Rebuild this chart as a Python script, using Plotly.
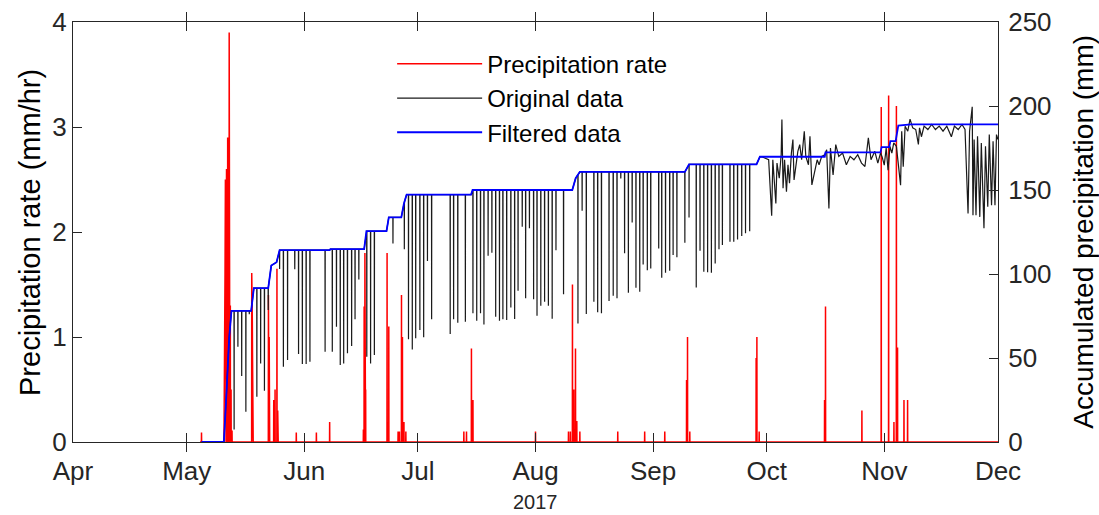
import numpy as np
import pandas as pd
import plotly.graph_objects as go

START = pd.Timestamp("2017-04-01")

# ---------------- data (days since 2017-04-01) ----------------
# Precipitation rate (mm/hr), non-zero samples
rate_days = [33.9,
             39.85, 40.0, 40.1, 40.2, 40.4, 40.5, 40.6, 40.8, 41.0, 41.2, 41.35, 41.5, 41.7, 41.95,
             47.15, 47.3, 47.35, 47.5,
             51.55, 51.65, 51.75, 51.85,
             52.95, 53.3, 53.8, 54.0, 54.1,
             58.9, 64.2, 67.7,
             76.6, 76.8, 77.0, 77.2,
             82.85, 83.3,
             85.75, 86.1, 86.65, 86.9, 87.3, 87.8,
             103.1, 103.8, 105.1, 105.5,
             122.0,
             130.7, 131.2, 131.75, 132.1, 132.55, 132.9, 133.7,
             143.7, 150.8, 156.1,
             161.85, 162.1, 162.7,
             180.2, 180.4, 181.0,
             198.25, 198.5,
             208.1,
             213.2, 215.15, 216.55, 217.2, 217.5,
             219.2, 220.15]
rate_vals = [0.09,
             0.4, 1.38, 1.6, 2.5, 1.8, 2.6, 2.0, 2.9, 2.9, 3.9, 3.88, 1.3, 0.5, 0.11,
             1.61, 1.16, 0.85, 0.3,
             1.4, 0.5, 1.0, 0.3,
             0.4, 0.5, 1.65, 0.3, 0.15,
             0.09, 0.09, 0.19,
             0.12, 1.29, 1.8, 0.5,
             1.8, 1.1,
             0.1, 0.1, 1.4, 1.0, 0.19, 0.1,
             0.1, 0.1, 0.89, 0.4,
             0.1,
             0.1, 0.1, 1.5, 0.5, 0.89, 0.2, 0.1,
             0.1, 0.1, 0.1,
             0.59, 1.0, 0.1,
             0.8, 1.0, 0.1,
             0.4, 1.29,
             0.3,
             3.19, 3.3, 0.19, 3.2, 0.9,
             0.4, 0.4]

# Filtered accumulated precipitation (mm)
filt_days = [33.9, 39.8, 40.5, 41.2, 41.8, 47.0, 47.7, 51.5, 52.3, 53.2, 53.7, 54.5,
             67.7, 67.9, 76.8, 77.4, 82.7, 83.3, 86.6, 87.3, 88.0, 105.0, 105.4,
             131.7, 132.6, 133.7, 161.4, 162.5, 180.3, 181.2, 198.3, 198.5,
             213.0, 213.3, 215.3, 215.6, 217.0, 217.7, 221.0, 244.0]
filt_mm = [0, 0, 30, 62, 78.1, 78.1, 91.6, 91.6, 105, 106.5, 107, 114.2,
           114.2, 114.8, 114.8, 125.5, 125.5, 133.7, 133.7, 142, 147.2, 147.2, 150,
           150, 157, 160.8, 160.8, 165.2, 165.2, 169.8, 169.8, 172.4,
           172.4, 175.5, 175.5, 179.1, 179.1, 188.4, 189.1, 189.1]

# Original data: short downward drops (mm)
dip_days = [42.5, 43.5, 44.5, 45.6, 46.5, 48.5, 49.5, 50.5, 51.5, 54.5, 55.5, 56.6,
            58.5, 59.5, 60.5, 61.5, 62.5, 66.5, 68.4, 69.5, 70.5, 71.4, 72.4, 73.5,
            74.4, 75.4, 77.5, 78.5, 79.5, 84.4, 87.4, 88.5, 89.5, 90.4, 91.5, 92.5,
            93.5, 94.6, 99.5, 100.4, 101.5, 103.5, 105.5, 106.5, 107.5, 108.4, 109.5,
            110.5, 111.5, 112.5, 113.4, 114.4, 115.5, 116.5, 117.4, 118.5, 119.4,
            120.4, 121.5, 122.4, 123.4, 124.4, 125.4, 126.4, 127.4, 129.4, 133.2,
            134.3, 135.4, 137.4, 138.4, 139.4, 141.4, 142.5, 143.5, 144.5, 145.5,
            146.5, 147.5, 148.5, 149.5, 150.4, 151.5, 152.4, 154.5, 155.3, 156.3,
            157.4, 158.3, 159.3, 161.4, 162.5, 164.4, 165.4, 166.4, 167.4, 168.4,
            169.4, 170.4, 171.3, 173.3, 174.3, 175.3, 176.4, 177.4, 178.5]
dip_mm = [7.5, 56.7, 39.3, 18, 76, 27, 46.8, 30.5, 78.5, 103, 44.8, 48.8,
          102.8, 52.4, 46.4, 46.4, 47.8, 53.7, 53.7, 68.6, 45.8, 46.8, 52.8, 57.1,
          73, 96.8, 50.8, 46.8, 51.8, 118.2, 114.8, 61.1, 55.1, 61.7, 66.6, 62.3,
          107.7, 73, 64.3, 73, 71, 71.6, 76.6, 72.2, 76.6, 70, 110.9,
          112.6, 74.6, 72.2, 73, 72.6, 80.1, 73.2, 90, 128.1, 85.5,
          127.2, 84.9, 75.2, 81.1, 83.5, 81.1, 73.4, 114.2, 87.9, 70.6,
          137.6, 76.2, 83.5, 77.2, 76.6, 83.9, 87, 85.5, 156.9, 112.3,
          88.8, 130.7, 91.8, 89.4, 105.7, 102.3, 103.3, 115.2, 97.8, 100.8,
          101.9, 111.3, 109.9, 118.6, 133.7, 92, 113.8, 101.3, 101, 100.8,
          106.3, 114.8, 117.2, 119.2, 119.2, 120.6, 122.6, 124.2, 125.5]

# Original data: noisy period October - November (mm)
noise_days = [182.0, 183.5, 184.3, 184.6, 185.4, 185.7, 186.3, 186.8, 187.0, 187.3, 187.7,
              188.2, 188.6, 189.0, 189.5, 189.9, 190.2, 190.7, 191.2, 191.7, 192.2, 192.9,
              193.3, 194.0, 194.4, 194.9, 195.3, 195.8, 196.3, 196.8, 197.5, 198.3, 198.8,
              199.4, 199.8, 200.5, 201.2, 202.0, 203.0, 204.0, 205.0, 206.0, 207.0, 208.0,
              208.9, 209.8, 210.5, 211.5, 212.3, 213.0, 213.4, 214.0, 214.5, 215.0, 215.5,
              216.0, 216.5, 217.2, 218.3, 218.6, 219.0, 219.5, 220.2, 220.8, 221.5, 222.3,
              223.0, 223.3, 223.8, 224.5, 225.5, 226.5, 227.5, 228.5, 229.5, 230.5, 231.7,
              232.5, 233.5, 234.5, 235.3, 236.1, 236.5, 237.2, 237.4, 237.7, 238.2, 238.6,
              239.2, 239.6, 240.3, 240.7, 241.3, 241.7, 242.3, 242.7, 243.2, 243.6, 244.0]
noise_mm = [169.5, 168, 134.7, 168, 142, 166, 157, 171, 192, 151, 168,
            149, 165, 154, 172, 180, 156, 165, 173, 177, 168, 185,
            170, 165, 182, 153, 157, 163, 168, 165, 170, 171, 174,
            139, 175, 159, 177, 170, 172, 165, 170, 168, 171, 166,
            164, 181, 168, 173, 166, 172, 170, 164.8, 175, 161.8, 176,
            172, 178, 176, 152.9, 185, 163.8, 188, 185, 192.2, 187, 186,
            177.1, 187, 181.7, 188, 186, 189, 186, 188, 185, 188, 181.7,
            188, 186, 189, 186, 136, 185, 199.5, 135, 180, 135, 182,
            134, 178, 127.2, 176, 140, 183, 141, 179, 141, 183, 180]

month_ticks = ["2017-04-01", "2017-05-01", "2017-06-01", "2017-07-01", "2017-08-01",
               "2017-09-01", "2017-10-01", "2017-11-01", "2017-12-01"]
month_labels = ["Apr", "May", "Jun", "Jul", "Aug", "Sep", "Oct", "Nov", "Dec"]


def to_dt(days):
    return START + pd.to_timedelta(np.asarray(days, dtype=float), unit="D")


# ---- precipitation rate: zero baseline between recorded samples ----
def rate_series(days, vals, first=33.5, last=244.0, gap=0.12, eps=0.03):
    xs, ys = [first], [0.0]
    n = len(days)
    for i in range(n):
        d, v = days[i], vals[i]
        if i == 0 or d - days[i - 1] > gap:
            xs.append(d - eps); ys.append(0.0)
        xs.append(d); ys.append(v)
        if i == n - 1 or days[i + 1] - d > gap:
            xs.append(d + eps); ys.append(0.0)
    xs.append(last); ys.append(0.0)
    return xs, ys


rx, ry = rate_series(rate_days, rate_vals)

# ---- original data: filtered curve with drops, then noisy period ----
fd = np.array(filt_days); fm = np.array(filt_mm)
pts = [(d, m) for d, m in zip(filt_days, filt_mm) if d <= 181.2]
eps = 0.03
for d, m in zip(dip_days, dip_mm):
    pts.append((d - eps, float(np.interp(d - eps, fd, fm))))
    pts.append((d, m))
    pts.append((d + eps, float(np.interp(d + eps, fd, fm))))
pts += list(zip(noise_days, noise_mm))
pts.sort(key=lambda p: p[0])
ox = [p[0] for p in pts]
oy = [p[1] for p in pts]

FONT = "Liberation Sans, Arial, sans-serif"
INK = "#262626"

fig = go.Figure()
fig.add_trace(go.Scatter(x=to_dt(rx), y=ry, mode="lines", name="Precipitation rate",
                         line=dict(color="#ff0000", width=1.5), yaxis="y"))
fig.add_trace(go.Scatter(x=to_dt(ox), y=oy, mode="lines", name="Original data",
                         line=dict(color="#1a1a1a", width=1.2), yaxis="y2"))
fig.add_trace(go.Scatter(x=to_dt(filt_days), y=filt_mm, mode="lines", name="Filtered data",
                         line=dict(color="#0000ff", width=1.8), yaxis="y2"))

fig.update_layout(
    width=1099, height=515,
    margin=dict(l=73, r=101, t=22, b=73, autoexpand=False),
    paper_bgcolor="white", plot_bgcolor="white",
    font=dict(family=FONT, size=24, color=INK),
    showlegend=True,
    legend=dict(x=0.345, y=0.953, xanchor="left", yanchor="top",
                bgcolor="rgba(0,0,0,0)", borderwidth=0,
                font=dict(size=24, color="black"), itemwidth=85,
                tracegroupgap=0),
    xaxis=dict(range=["2017-04-01", "2017-12-01"], tickmode="array",
               tickvals=month_ticks, ticktext=month_labels,
               ticks="inside", ticklen=9, tickwidth=1, tickcolor=INK,
               showline=True, linecolor=INK, linewidth=1, mirror="allticks",
               showgrid=False, zeroline=False, ticklabelstandoff=6,
               automargin=False,
               tickfont=dict(size=26, color=INK)),
    yaxis=dict(range=[0, 4], tickvals=[0, 1, 2, 3, 4],
               ticks="inside", ticklen=9, tickcolor=INK,
               showline=True, linecolor=INK, linewidth=1,
               showgrid=False, zeroline=False, automargin=False,
               tickfont=dict(size=26, color=INK)),
    yaxis2=dict(range=[0, 250], tickvals=[0, 50, 100, 150, 200, 250],
                overlaying="y", side="right",
                ticks="inside", ticklen=9, tickcolor=INK,
                showline=True, linecolor=INK, linewidth=1,
                showgrid=False, zeroline=False, ticklabelstandoff=4,
                automargin=False,
                tickfont=dict(size=26, color=INK)),
    annotations=[
        dict(text="Precipitation rate (mm/hr)", xref="paper", yref="paper",
             x=-0.0465, y=0.5, xanchor="center", yanchor="middle", textangle=-90,
             showarrow=False, font=dict(size=29, color="black")),
        dict(text="Accumulated precipitation (mm)", xref="paper", yref="paper",
             x=1.0915, y=0.5, xanchor="center", yanchor="middle", textangle=-90,
             showarrow=False, font=dict(size=28, color="black")),
        dict(text="2017", xref="paper", yref="paper", x=0.5, y=-0.143,
             xanchor="center", yanchor="middle", showarrow=False,
             font=dict(size=20, color=INK)),
    ],
)

fig.write_html("out.html")
